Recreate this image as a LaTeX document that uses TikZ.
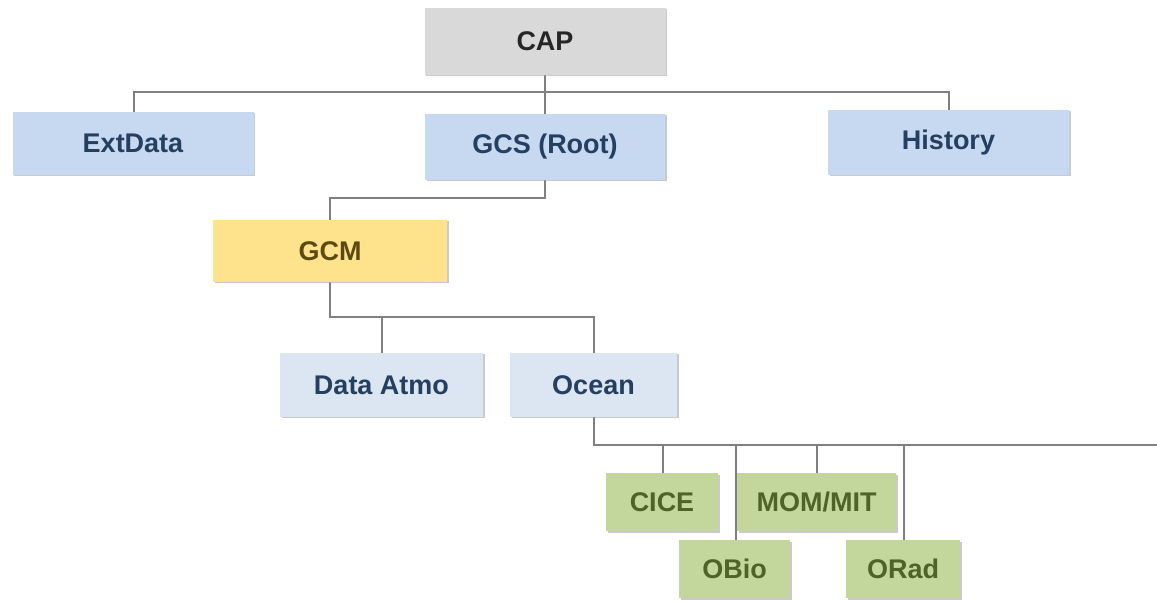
\documentclass[tikz,border=0pt]{standalone}
\usepackage{fontspec}
\setmainfont{Liberation Sans}
\usetikzlibrary{shadows,backgrounds}
\definecolor{capfill}{HTML}{D9D9D9}
\definecolor{captext}{HTML}{262626}
\definecolor{bluefill}{HTML}{C6D9F1}
\definecolor{lightblue}{HTML}{DCE6F2}
\definecolor{bluetext}{HTML}{243F60}
\definecolor{yellowfill}{HTML}{FFE38C}
\definecolor{yellowtext}{HTML}{5C4A14}
\definecolor{greenfill}{HTML}{C3D69B}
\definecolor{greentext}{HTML}{4F6228}
\definecolor{linecol}{HTML}{808080}
\tikzset{
  box/.style={rectangle, inner sep=0pt, font=\fontsize{27}{30}\selectfont\bfseries,
    drop shadow={shadow xshift=1.5pt, shadow yshift=-1.5pt, fill=black!35, opacity=0.6}},
  graybox/.style={box, fill=capfill, text=captext},
  bluebox/.style={box, fill=bluefill, text=bluetext},
  lbluebox/.style={box, fill=lightblue, text=bluetext},
  yellowbox/.style={box, fill=yellowfill, text=yellowtext},
  greenbox/.style={box, fill=greenfill, text=greentext},
  conn/.style={draw=linecol, line width=1.1pt}
}
\begin{document}
\begin{tikzpicture}[x=1pt,y=-1pt]
\useasboundingbox (0,0) rectangle (1157,601);
\coordinate (h1L) at (134,92);
\coordinate (h1R) at (949,92);
\coordinate (h2) at (545,198);
\coordinate (h2L) at (330,198);
\coordinate (h3) at (330,317);
\coordinate (h3a) at (382,317);
\coordinate (h3b) at (594,317);
\coordinate (h4) at (594,445);
\coordinate (h4R) at (1157,445);
\coordinate (h4a) at (663,445);
\coordinate (h4b) at (736,445);
\coordinate (h4c) at (817,445);
\coordinate (h4d) at (904,445);

\node[graybox, minimum width=241pt, minimum height=67pt] (cap) at (545,41.5) {CAP};
\node[bluebox, minimum width=241pt, minimum height=63pt] (ext) at (133,143.5) {ExtData};
\node[bluebox, minimum width=240pt, minimum height=66pt] (gcs) at (545,147) {GCS (Root)};
\node[bluebox, minimum width=241pt, minimum height=65pt] (hist) at (948.5,142.5) {History};
\node[yellowbox, minimum width=234pt, minimum height=62pt] (gcm) at (330,251) {GCM};
\node[lbluebox, minimum width=203pt, minimum height=64pt] (datm) at (381.5,385) {Data Atmo};
\node[lbluebox, minimum width=167pt, minimum height=64pt] (ocean) at (593.5,385) {Ocean};
\node[greenbox, minimum width=112pt, minimum height=58pt] (cice) at (662,502) {CICE};
\node[greenbox, minimum width=159pt, minimum height=58pt] (mom) at (816.5,502) {MOM/MIT};
\node[greenbox, minimum width=111pt, minimum height=58pt] (obio) at (734.5,569) {OBio};
\node[greenbox, minimum width=114pt, minimum height=58pt] (orad) at (903,569) {ORad};

\begin{scope}[on background layer]
\draw[conn] (cap.south) -- (gcs.north);
\draw[conn] (ext.north -| h1L) -- (h1L) -- (h1R) -- (hist.north -| h1R);
\draw[conn] (gcs.south) -- (h2) -- (h2L) -- (gcm.north);
\draw[conn] (gcm.south) -- (h3) -- (h3b) -- (ocean.north -| h3b);
\draw[conn] (h3a) -- (datm.north -| h3a);
\draw[conn] (ocean.south -| h4) -- (h4) -- (h4R);
\draw[conn] (h4a) -- (cice.north -| h4a);
\draw[conn] (h4c) -- (mom.north -| h4c);
\draw[conn] (h4b) -- (obio.north -| h4b);
\draw[conn] (h4d) -- (orad.north -| h4d);
\end{scope}
\end{tikzpicture}
\end{document}
